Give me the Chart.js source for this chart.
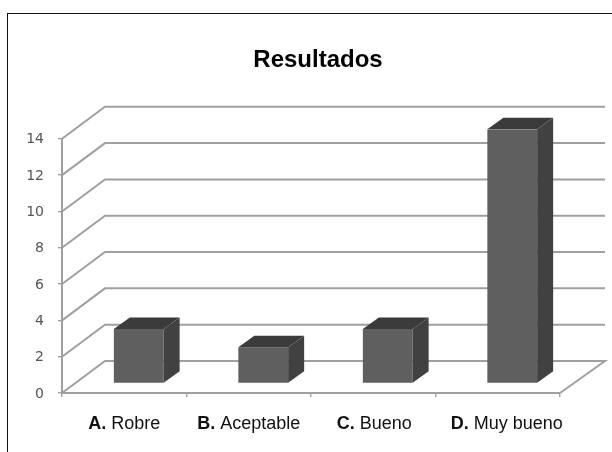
<!DOCTYPE html>
<html><head><meta charset="utf-8">
<style>
html,body{margin:0;padding:0;background:#fff;width:612px;height:452px;overflow:hidden}
#wrap{position:absolute;left:0;top:0;width:612px;height:452px;overflow:hidden}
canvas{position:absolute;left:0;top:0;filter:blur(0.6px)}
#frame{position:absolute;left:7px;top:13px;width:620px;height:460px;border:1px solid #111;box-sizing:border-box}
</style>
<script src="https://cdn.jsdelivr.net/npm/chart.js@4"></script>
</head><body>
<div id="wrap"><div id="frame"></div><canvas id="c" width="612" height="452"></canvas></div>
<script>
const chartTitle = "Resultados";
const categories = ["A. Robre","B. Aceptable","C. Bueno","D. Muy bueno"];
const labelLetters = ["A.","B.","C.","D."];
const labelNames = ["Robre","Aceptable","Bueno","Muy bueno"];
const values = [3,2,3,14];
const yTicksMax = 14;
const yTicksStep = 2;

const labelNudge = [0,0,1,9];
const wall = {dx:43, dy:-32, rightDx:45};
const barShift = {dx:14.5, dy:-9.5};
const depth = {dx:16, dy:-11.5};
const FONT = '"Liberation Sans", Arial, sans-serif';
const LABEL_SIZE = 18;

const wall3d = {
  id:'wall3d',
  afterLayout(chart){ chart.titleBlock.left += 76; },
  beforeDatasetsDraw(chart){
    const {ctx, chartArea:a, scales:{y}} = chart;
    ctx.save();
    ctx.strokeStyle='#a0a0a0'; ctx.lineWidth=2;
    for(let v=0;v<=yTicksMax;v+=yTicksStep){
      const p=y.getPixelForValue(v);
      ctx.beginPath();
      ctx.moveTo(a.left,p);
      ctx.lineTo(a.left+wall.dx,p+wall.dy);
      ctx.lineTo(a.right+wall.rightDx,p+wall.dy);
      if(v===0) ctx.lineTo(a.right,p);
      ctx.stroke();
    }
    ctx.restore();
    ctx.save();
    ctx.translate(barShift.dx,barShift.dy);
  },
  afterDatasetsDraw(chart){
    const ctx=chart.ctx;
    chart.getDatasetMeta(0).data.forEach(b=>{
      const l=b.x-b.width/2, r=b.x+b.width/2, t=b.y, m=b.base;
      ctx.fillStyle='#3b3b3b';
      ctx.beginPath();
      ctx.moveTo(l,t);ctx.lineTo(l+depth.dx,t+depth.dy);ctx.lineTo(r+depth.dx,t+depth.dy);ctx.lineTo(r,t);
      ctx.closePath();ctx.fill();
      ctx.fillStyle='#414141';
      ctx.beginPath();
      ctx.moveTo(r,t);ctx.lineTo(r+depth.dx,t+depth.dy);ctx.lineTo(r+depth.dx,m+depth.dy);ctx.lineTo(r,m);
      ctx.closePath();ctx.fill();
    });
    ctx.restore();
  },
  afterDraw(chart){
    const {ctx, scales:{x}} = chart;
    ctx.save();
    ctx.fillStyle='#111';
    ctx.textBaseline='middle';
    const yy=424;
    labelLetters.forEach((lt,i)=>{
      const name=' '+labelNames[i];
      ctx.font='bold '+LABEL_SIZE+'px '+FONT; const w1=ctx.measureText(lt).width;
      ctx.font=LABEL_SIZE+'px '+FONT; const w2=ctx.measureText(name).width;
      const sx=x.getPixelForTick(i)+labelNudge[i]-(w1+w2)/2;
      ctx.font='bold '+LABEL_SIZE+'px '+FONT; ctx.textAlign='left'; ctx.fillText(lt,sx,yy);
      ctx.font=LABEL_SIZE+'px '+FONT; ctx.fillText(name,sx+w1,yy);
    });
    ctx.restore();
  }
};

new Chart(document.getElementById('c'),{
  type:'bar',
  data:{labels:categories,datasets:[{data:values,backgroundColor:'#5f5f5f',borderWidth:0,categoryPercentage:0.8,barPercentage:0.5}]},
  options:{
    responsive:false,animation:false,devicePixelRatio:1,
    layout:{padding:{left:0,right:52,top:0,bottom:0}},
    plugins:{
      legend:{display:false},tooltip:{enabled:false},
      title:{display:true,text:chartTitle,color:'#000',font:{family:FONT,size:24,weight:'bold',lineHeight:1.2},padding:{top:46,bottom:64}}
    },
    scales:{
      x:{
        ticks:{display:false},
        grid:{drawOnChartArea:false,tickLength:4,color:'#a0a0a0',lineWidth:1.4},
        border:{color:'#a0a0a0',width:2},
        afterFit(s){s.height=59;}
      },
      y:{
        min:0,max:yTicksMax,
        ticks:{stepSize:yTicksStep,color:'#555',padding:14,labelOffset:1,font:{family:'"DejaVu Sans"',size:14}},
        grid:{drawOnChartArea:false,tickLength:4,color:'#a0a0a0',lineWidth:1.4},
        border:{color:'#a0a0a0',width:2},
        afterFit(s){s.width=62;}
      }
    }
  },
  plugins:[wall3d]
});
</script>
</body></html>
